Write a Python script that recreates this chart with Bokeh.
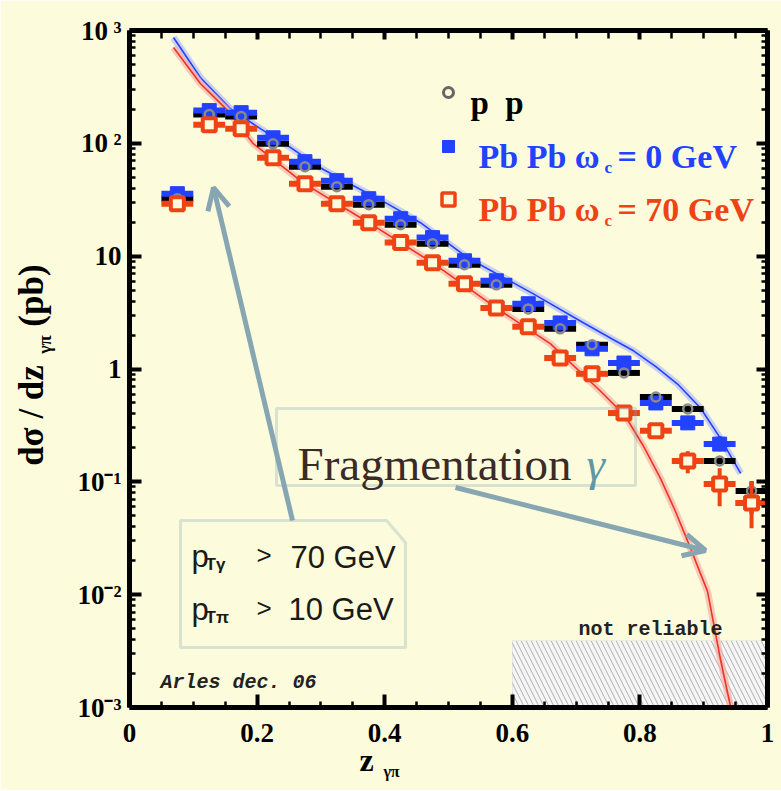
from bokeh.plotting import figure
from bokeh.models import (FixedTicker, LinearAxis, LogAxis, Label, Arrow, OpenHead,
                          PolyAnnotation, BoxAnnotation)
from bokeh.embed import file_html
from bokeh.resources import INLINE

# ---------------- data ----------------
z_bins = [0.075, 0.125, 0.175, 0.225, 0.275, 0.325, 0.375, 0.425, 0.475, 0.525,
          0.575, 0.625, 0.675, 0.725, 0.775, 0.825, 0.875, 0.925, 0.975]
bin_half_width = 0.025

sigma_pp = [32.3, 180, 173, 99, 62, 41.3, 28.6, 19.0, 12.9, 8.4,
            5.57, 3.41, 2.27, 1.64, 0.923, 0.565, 0.443, 0.153, 0.0828]
sigma_pbpb_0 = [35.8, 195, 187, 112, 68.8, 46.7, 32.3, 21.5, 14.6, 9.1,
                6.05, 3.79, 2.56, 1.51, 1.13, 0.50, 0.333, 0.216, 0.0649]
sigma_pbpb_70 = [29.2, 146, 135, 74.6, 43.9, 29.2, 19.8, 13.2, 8.73, 5.7,
                 3.48, 2.37, 1.25, 0.906, 0.407, 0.283, 0.153, 0.0955, 0.0649]

err_z_70 = [0.875, 0.925, 0.975]
err_lo_70 = [0.119, 0.0608, 0.0388]
err_hi_70 = [0.187, 0.132, 0.101]
err_z_0 = [0.925, 0.975]
err_lo_0 = [0.187, 0.0516]
err_hi_0 = [0.254, 0.0716]
err_z_pp = [0.975]
err_lo_pp = [0.066]
err_hi_pp = [0.101]

theory_z_0 = [0.069, 0.111, 0.158, 0.205, 0.248, 0.299, 0.351, 0.404, 0.456, 0.530,
              0.633, 0.712, 0.760, 0.790, 0.825, 0.859, 0.895, 0.926, 0.958]
theory_0 = [867, 383, 203, 135, 95.3, 60.8, 42.1, 29.2, 19.8, 9.68,
            4.63, 2.56, 1.80, 1.45, 1.05, 0.736, 0.451, 0.244, 0.119]
theory_z_70 = [0.069, 0.111, 0.154, 0.194, 0.274, 0.375, 0.475, 0.575, 0.660, 0.738,
               0.777, 0.805, 0.832, 0.855, 0.875, 0.906, 0.926, 0.947]
theory_70 = [706, 339, 195, 99.3, 43.9, 19.8, 8.73, 3.48, 1.67, 0.638,
             0.383, 0.21, 0.108, 0.056, 0.0297, 0.0107, 0.00272, 0.00075]

unreliable_z = [0.6, 1.0]
unreliable_top = 0.0039

x_ticks = [0, 0.2, 0.4, 0.6, 0.8, 1]
x_tick_labels = ["0", "0.2", "0.4", "0.6", "0.8", "1"]
x_minor = [0.05, 0.1, 0.15, 0.25, 0.3, 0.35, 0.45, 0.5, 0.55, 0.65, 0.7, 0.75, 0.85, 0.9, 0.95]
y_ticks = [0.001, 0.01, 0.1, 1, 10, 100, 1000]
y_tick_labels = ["10\u207b\u00b3", "10\u207b\u00b2", "10\u207b\u00b9", "1", "10",
                 "10\u2009\u00b2", "10\u2009\u00b3"]
y_minor = [k * 10.0 ** d for d in range(-3, 3) for k in range(2, 10)]

# ---------------- style ----------------
BG = "#FCFCDC"
BLUE = "#2242FF"
RED = "#EE4415"
STEEL = "#87A6B1"
SERIF = "Liberation Serif"
SANS = "Liberation Sans"
W, H = 781, 790

# frame position in page pixels (used only to place annotations)
FL, FR, FT, FB = 129, 767, 30, 707


def px(xp):
    return (xp - FL) / (FR - FL)


def py(yp):
    return 10 ** (3 - 6 * (yp - FT) / (FB - FT))


p = figure(width=W, height=H, x_range=(0, 1), y_range=(0.001, 1000),
           y_axis_type="log", output_backend="svg", toolbar_location=None,
           min_border_left=FL, min_border_right=W - FR,
           min_border_top=FT, min_border_bottom=H - FB,
           background_fill_color=BG, border_fill_color=BG, outline_line_color=None)
p.grid.visible = False

xt = FixedTicker(ticks=x_ticks, minor_ticks=x_minor)
yt = FixedTicker(ticks=y_ticks, minor_ticks=y_minor)


def style_axis(ax, labels=True, major_in=12, minor_in=6):
    ax.axis_line_width = 5
    ax.axis_line_color = "black"
    ax.major_tick_in = major_in
    ax.major_tick_out = 0
    ax.major_tick_line_width = 4
    ax.minor_tick_in = minor_in
    ax.minor_tick_out = 0
    ax.minor_tick_line_width = 2.5
    ax.major_label_text_font = SERIF
    ax.major_label_text_font_style = "bold"
    if labels:
        ax.major_label_text_font_size = "27px"
        ax.major_label_text_color = "black"
    else:
        ax.major_label_text_font_size = "2px"
        ax.major_label_text_color = None
        ax.major_label_standoff = 0


xa = p.xaxis[0]
xa.ticker = xt
xa.major_label_overrides = {t: l for t, l in zip(x_ticks, x_tick_labels)}
style_axis(xa, major_in=13, minor_in=6)
xa.major_label_standoff = 16

ya = p.yaxis[0]
ya.ticker = yt
ya.major_label_overrides = {t: l for t, l in zip(y_ticks, y_tick_labels)}
style_axis(ya, major_in=12, minor_in=6)
ya.major_label_standoff = 8

top = LinearAxis(ticker=xt)
style_axis(top, labels=False, major_in=9, minor_in=8)
p.add_layout(top, "above")
right = LogAxis(ticker=yt)
style_axis(right, labels=False, major_in=11, minor_in=6)
p.add_layout(right, "right")


# axis titles with subscripts: carried by bare extra axes (only their labels show)
def text_axis(side, positions, texts, size, standoff, log=False, orientation=None):
    ax = LogAxis() if log else LinearAxis()
    ax.ticker = FixedTicker(ticks=positions, minor_ticks=[])
    ax.major_label_overrides = {t: s for t, s in zip(positions, texts)}
    ax.axis_line_color = None
    ax.major_tick_line_color = None
    ax.minor_tick_line_color = None
    ax.major_tick_in = ax.major_tick_out = 0
    ax.minor_tick_in = ax.minor_tick_out = 0
    ax.major_label_text_font = SERIF
    ax.major_label_text_font_style = "bold"
    ax.major_label_text_font_size = size
    ax.major_label_text_color = "black"
    ax.major_label_standoff = standoff
    if orientation is not None:
        ax.major_label_orientation = orientation
    p.add_layout(ax, side)


# y title: subscript column (closer to frame), then main text column
text_axis("left", [py(344)], ["\u03b3\u03c0"], "18px", 20, log=True, orientation="vertical")
text_axis("left", [py(415), py(295)], ["d\u03c3 / dz", "(pb)"], "35px", -19, log=True,
          orientation="vertical")
# x title
text_axis("below", [px(366)], ["z"], "32px", -3)
text_axis("below", [px(391)], ["\u03b3\u03c0"], "16px", -18)

# not-reliable hatched region
p.quad(left=unreliable_z[0], right=unreliable_z[1], bottom=0.001, top=unreliable_top,
       fill_color="#b4b4b4", line_color=None, hatch_pattern="\\", hatch_color="#f6f6f6",
       hatch_weight=3.5, hatch_scale=10)

# theory curves
p.line(theory_z_0, theory_0, line_color="#a8b2ff", line_width=7, line_alpha=0.6)
p.line(theory_z_0, theory_0, line_color=BLUE, line_width=1.6)
p.line(theory_z_70, theory_70, line_color="#f6a6a0", line_width=7, line_alpha=0.6)
p.line(theory_z_70, theory_70, line_color="#EE3322", line_width=1.6)

# data points
x0 = [z - bin_half_width for z in z_bins]
x1 = [z + bin_half_width for z in z_bins]
p.segment(x0=x0, x1=x1, y0=sigma_pp, y1=sigma_pp, line_color="black", line_width=6)
p.segment(x0=err_z_pp, x1=err_z_pp, y0=err_lo_pp, y1=err_hi_pp, line_color="black", line_width=4)
p.segment(x0=x0, x1=x1, y0=sigma_pbpb_0, y1=sigma_pbpb_0, line_color=BLUE, line_width=6)
p.segment(x0=err_z_0, x1=err_z_0, y0=err_lo_0, y1=err_hi_0, line_color=BLUE, line_width=4)
p.scatter(z_bins, sigma_pbpb_0, marker="square", size=14, fill_color=BLUE, line_color=BLUE)
p.scatter(z_bins, sigma_pp, marker="circle", size=9, fill_color=None, line_color="#8a8a8a",
          line_width=2.5)
p.segment(x0=x0, x1=x1, y0=sigma_pbpb_70, y1=sigma_pbpb_70, line_color=RED, line_width=6)
p.segment(x0=err_z_70, x1=err_z_70, y0=err_lo_70, y1=err_hi_70, line_color=RED, line_width=4)
p.scatter(z_bins, sigma_pbpb_70, marker="square", size=13, fill_color=BG, line_color=RED,
          line_width=4)

# legend (manual)
p.scatter([px(448)], [py(92)], marker="circle", size=10, fill_color=None, line_color="#666666",
          line_width=3)
p.scatter([px(448)], [py(146)], marker="square", size=12, fill_color=BLUE, line_color=BLUE)
p.scatter([px(448)], [py(199)], marker="square", size=13, fill_color=BG, line_color=RED,
          line_width=3.5)


def lab(xp, yp, text, size, color="black", font=SERIF, style="bold", align="left",
        baseline="alphabetic"):
    p.add_layout(Label(x=px(xp), y=py(yp), text=text, text_font=font, text_font_style=style,
                       text_font_size=size, text_color=color, text_align=align,
                       text_baseline=baseline))


lab(470, 102, "p\u2002p", "33px")
lab(478, 156, "Pb Pb \u03c9", "34px", BLUE)
lab(604, 167, "c", "17px", BLUE)
lab(617, 156, "= 0 GeV", "34px", BLUE)
lab(478, 209, "Pb Pb \u03c9", "34px", RED)
lab(604, 220, "c", "17px", RED)
lab(617, 209, "= 70 GeV", "34px", RED)

# not reliable / Arles
lab(578, 629, "not reliable", "20px", "#222222", font="Liberation Mono")
lab(160, 682, "Arles dec. 06", "20px", "#222222", font="Liberation Mono", style="bold italic")

# Fragmentation box
p.add_layout(BoxAnnotation(left=px(276), right=px(635), top=py(408), bottom=py(485),
                           fill_alpha=0, line_color=STEEL, line_width=3))
lab(297, 463, "Fragmentation", "47px", "#3a2a28", style="normal")
lab(586, 463, "\u03b3", "47px", "#5f97a6", style="italic")

# pT box
p.add_layout(PolyAnnotation(xs=[px(180), px(386), px(405), px(405), px(180)],
                            ys=[py(520), py(520), py(542), py(647), py(647)],
                            fill_alpha=0, line_color=STEEL, line_width=3))
lab(191, 556, "p", "31px", "#1a1a1a", font=SANS, style="normal")
lab(205, 564, "T\u03b3", "17px", "#1a1a1a", font=SANS, style="bold")
lab(256, 554, ">", "26px", "#1a1a1a", font=SANS, style="normal")
lab(290, 557, "70 GeV", "31px", "#1a1a1a", font=SANS, style="normal")
lab(191, 609, "p", "31px", "#1a1a1a", font=SANS, style="normal")
lab(205, 617, "T\u03c0", "17px", "#1a1a1a", font=SANS, style="bold")
lab(256, 607, ">", "26px", "#1a1a1a", font=SANS, style="normal")
lab(288, 609, "10 GeV", "31px", "#1a1a1a", font=SANS, style="normal")

# arrows
p.add_layout(Arrow(x_start=px(292), y_start=py(520), x_end=px(213), y_end=py(187),
                   line_color=STEEL, line_width=5,
                   end=OpenHead(size=22, line_color=STEEL, line_width=5)))
p.add_layout(Arrow(x_start=px(455), y_start=py(487), x_end=px(705), y_end=py(550),
                   line_color=STEEL, line_width=5,
                   end=OpenHead(size=22, line_color=STEEL, line_width=5)))

html = file_html(p, INLINE)
html = html.replace("<body>", '<body style="background-color:%s;margin:0">' % BG, 1)
open("out.html", "w").write(html)
